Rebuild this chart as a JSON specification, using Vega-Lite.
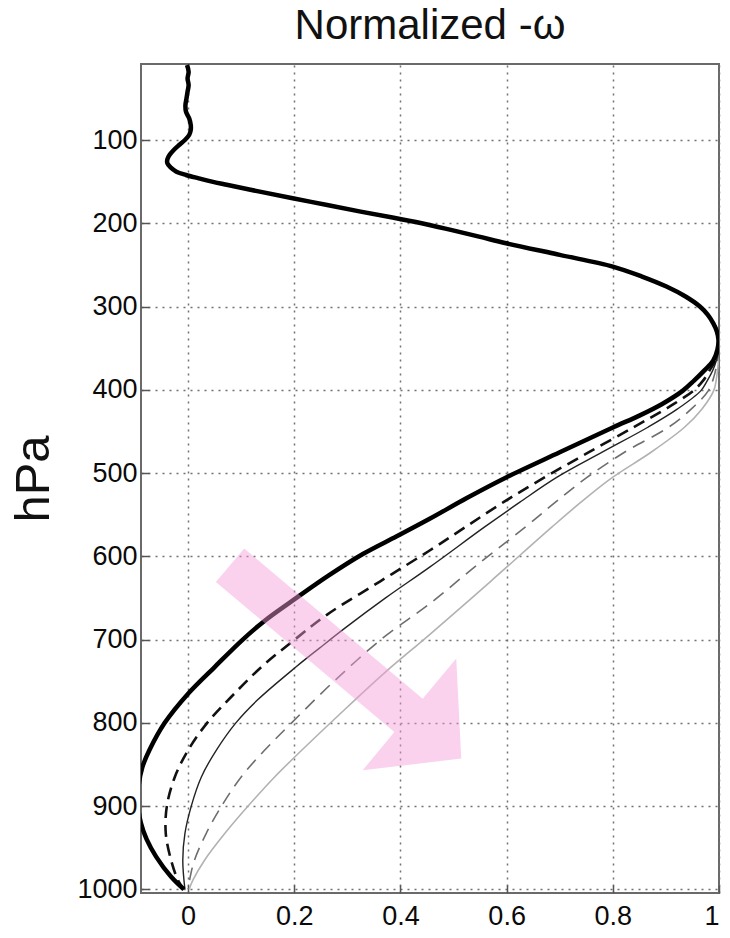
{
  "$schema": "https://vega.github.io/schema/vega-lite/v6.json",
  "width": 578,
  "height": 829,
  "autosize": {"type": "none"},
  "padding": {"left": 141, "top": 64, "right": 11, "bottom": 45},
  "background": "white",
  "title": {
    "text": "Normalized -ω",
    "font": "Liberation Sans",
    "fontSize": 42,
    "fontWeight": "normal",
    "color": "#111111",
    "anchor": "middle",
    "offset": 16
  },
  "config": {
    "view": {"stroke": "#6a6a6a", "strokeWidth": 2},
    "axis": {
      "grid": true,
      "gridDash": [2, 5],
      "gridColor": "#727272",
      "gridWidth": 1.5,
      "domain": false,
      "ticks": true,
      "tickSize": -8,
      "tickColor": "#555555",
      "tickWidth": 1.5,
      "labelFont": "Liberation Sans",
      "labelFontSize": 27,
      "labelColor": "#0a0a0a",
      "titleFont": "Liberation Sans",
      "titleFontWeight": "normal",
      "titleColor": "#111111"
    }
  },
  "datasets": {
    "profiles": [
      {"run": "A", "p": 10, "omega": -0.002},
      {"run": "A", "p": 18, "omega": 0.001},
      {"run": "A", "p": 26, "omega": -0.001},
      {"run": "A", "p": 34, "omega": 0.001},
      {"run": "A", "p": 42, "omega": -0.001},
      {"run": "A", "p": 50, "omega": -0.003},
      {"run": "A", "p": 58, "omega": -0.005},
      {"run": "A", "p": 66, "omega": -0.004},
      {"run": "A", "p": 74, "omega": 0.002},
      {"run": "A", "p": 82, "omega": 0.005},
      {"run": "A", "p": 88, "omega": 0.005},
      {"run": "A", "p": 94, "omega": 0.002},
      {"run": "A", "p": 100, "omega": -0.006},
      {"run": "A", "p": 106, "omega": -0.017},
      {"run": "A", "p": 112, "omega": -0.027},
      {"run": "A", "p": 118, "omega": -0.035},
      {"run": "A", "p": 123, "omega": -0.039},
      {"run": "A", "p": 128, "omega": -0.039},
      {"run": "A", "p": 133, "omega": -0.033},
      {"run": "A", "p": 138, "omega": -0.022},
      {"run": "A", "p": 142, "omega": -0.004},
      {"run": "A", "p": 146, "omega": 0.02},
      {"run": "A", "p": 150, "omega": 0.045},
      {"run": "A", "p": 154, "omega": 0.075},
      {"run": "A", "p": 162, "omega": 0.135},
      {"run": "A", "p": 170, "omega": 0.197},
      {"run": "A", "p": 178, "omega": 0.262},
      {"run": "A", "p": 186, "omega": 0.325},
      {"run": "A", "p": 193, "omega": 0.385},
      {"run": "A", "p": 200, "omega": 0.44},
      {"run": "A", "p": 208, "omega": 0.495},
      {"run": "A", "p": 216, "omega": 0.548},
      {"run": "A", "p": 224, "omega": 0.599},
      {"run": "A", "p": 238, "omega": 0.7},
      {"run": "A", "p": 252, "omega": 0.8},
      {"run": "A", "p": 264, "omega": 0.855},
      {"run": "A", "p": 276, "omega": 0.901},
      {"run": "A", "p": 288, "omega": 0.937},
      {"run": "A", "p": 300, "omega": 0.964},
      {"run": "A", "p": 310, "omega": 0.979},
      {"run": "A", "p": 320, "omega": 0.989},
      {"run": "A", "p": 330, "omega": 0.996},
      {"run": "A", "p": 340, "omega": 0.999},
      {"run": "A", "p": 352, "omega": 0.997},
      {"run": "A", "p": 365, "omega": 0.989},
      {"run": "A", "p": 377, "omega": 0.972},
      {"run": "A", "p": 389, "omega": 0.953},
      {"run": "A", "p": 401, "omega": 0.932},
      {"run": "A", "p": 417, "omega": 0.893},
      {"run": "A", "p": 431, "omega": 0.85},
      {"run": "A", "p": 445, "omega": 0.801},
      {"run": "A", "p": 475, "omega": 0.7},
      {"run": "A", "p": 505, "omega": 0.6},
      {"run": "A", "p": 530, "omega": 0.525},
      {"run": "A", "p": 555, "omega": 0.455},
      {"run": "A", "p": 576, "omega": 0.393},
      {"run": "A", "p": 597, "omega": 0.33},
      {"run": "A", "p": 623, "omega": 0.265},
      {"run": "A", "p": 650, "omega": 0.204},
      {"run": "A", "p": 677, "omega": 0.145},
      {"run": "A", "p": 700, "omega": 0.103},
      {"run": "A", "p": 733, "omega": 0.05},
      {"run": "A", "p": 765, "omega": 0.0},
      {"run": "A", "p": 800, "omega": -0.044},
      {"run": "A", "p": 833, "omega": -0.073},
      {"run": "A", "p": 853, "omega": -0.086},
      {"run": "A", "p": 875, "omega": -0.093},
      {"run": "A", "p": 900, "omega": -0.094},
      {"run": "A", "p": 920, "omega": -0.089},
      {"run": "A", "p": 940, "omega": -0.078},
      {"run": "A", "p": 961, "omega": -0.06},
      {"run": "A", "p": 985, "omega": -0.032},
      {"run": "A", "p": 1000, "omega": -0.008},

      {"run": "B", "p": 290, "omega": 0.94},
      {"run": "B", "p": 300, "omega": 0.964},
      {"run": "B", "p": 310, "omega": 0.979},
      {"run": "B", "p": 320, "omega": 0.99},
      {"run": "B", "p": 330, "omega": 0.997},
      {"run": "B", "p": 340, "omega": 1.0},
      {"run": "B", "p": 352, "omega": 0.998},
      {"run": "B", "p": 365, "omega": 0.993},
      {"run": "B", "p": 377, "omega": 0.982},
      {"run": "B", "p": 389, "omega": 0.97},
      {"run": "B", "p": 401, "omega": 0.952},
      {"run": "B", "p": 417, "omega": 0.915},
      {"run": "B", "p": 431, "omega": 0.878},
      {"run": "B", "p": 445, "omega": 0.839},
      {"run": "B", "p": 475, "omega": 0.755},
      {"run": "B", "p": 505, "omega": 0.672},
      {"run": "B", "p": 535, "omega": 0.594},
      {"run": "B", "p": 565, "omega": 0.522},
      {"run": "B", "p": 593, "omega": 0.455},
      {"run": "B", "p": 630, "omega": 0.362},
      {"run": "B", "p": 670, "omega": 0.262},
      {"run": "B", "p": 700, "omega": 0.201},
      {"run": "B", "p": 733, "omega": 0.138},
      {"run": "B", "p": 769, "omega": 0.081},
      {"run": "B", "p": 800, "omega": 0.036},
      {"run": "B", "p": 833, "omega": 0.0},
      {"run": "B", "p": 865, "omega": -0.025},
      {"run": "B", "p": 900, "omega": -0.04},
      {"run": "B", "p": 933, "omega": -0.042},
      {"run": "B", "p": 965, "omega": -0.032},
      {"run": "B", "p": 989, "omega": -0.019},
      {"run": "B", "p": 1000, "omega": -0.008},

      {"run": "C", "p": 290, "omega": 0.94},
      {"run": "C", "p": 300, "omega": 0.964},
      {"run": "C", "p": 310, "omega": 0.979},
      {"run": "C", "p": 320, "omega": 0.99},
      {"run": "C", "p": 330, "omega": 0.997},
      {"run": "C", "p": 340, "omega": 1.0},
      {"run": "C", "p": 352, "omega": 0.999},
      {"run": "C", "p": 365, "omega": 0.995},
      {"run": "C", "p": 377, "omega": 0.988},
      {"run": "C", "p": 389, "omega": 0.978},
      {"run": "C", "p": 401, "omega": 0.966},
      {"run": "C", "p": 423, "omega": 0.922},
      {"run": "C", "p": 445, "omega": 0.866},
      {"run": "C", "p": 475, "omega": 0.78},
      {"run": "C", "p": 505, "omega": 0.695},
      {"run": "C", "p": 535, "omega": 0.625},
      {"run": "C", "p": 565, "omega": 0.558},
      {"run": "C", "p": 613, "omega": 0.455},
      {"run": "C", "p": 650, "omega": 0.372},
      {"run": "C", "p": 686, "omega": 0.296},
      {"run": "C", "p": 710, "omega": 0.248},
      {"run": "C", "p": 733, "omega": 0.203},
      {"run": "C", "p": 773, "omega": 0.13},
      {"run": "C", "p": 800, "omega": 0.09},
      {"run": "C", "p": 833, "omega": 0.053},
      {"run": "C", "p": 865, "omega": 0.025},
      {"run": "C", "p": 900, "omega": 0.006},
      {"run": "C", "p": 933, "omega": -0.006},
      {"run": "C", "p": 965, "omega": -0.01},
      {"run": "C", "p": 1000, "omega": -0.006},

      {"run": "D", "p": 290, "omega": 0.94},
      {"run": "D", "p": 300, "omega": 0.964},
      {"run": "D", "p": 310, "omega": 0.979},
      {"run": "D", "p": 320, "omega": 0.99},
      {"run": "D", "p": 330, "omega": 0.997},
      {"run": "D", "p": 340, "omega": 1.0},
      {"run": "D", "p": 352, "omega": 1.0},
      {"run": "D", "p": 365, "omega": 0.997},
      {"run": "D", "p": 383, "omega": 0.991},
      {"run": "D", "p": 401, "omega": 0.98},
      {"run": "D", "p": 423, "omega": 0.948},
      {"run": "D", "p": 445, "omega": 0.905},
      {"run": "D", "p": 475, "omega": 0.822},
      {"run": "D", "p": 505, "omega": 0.752},
      {"run": "D", "p": 535, "omega": 0.692},
      {"run": "D", "p": 565, "omega": 0.635},
      {"run": "D", "p": 610, "omega": 0.545},
      {"run": "D", "p": 657, "omega": 0.455},
      {"run": "D", "p": 698, "omega": 0.367},
      {"run": "D", "p": 750, "omega": 0.275},
      {"run": "D", "p": 800, "omega": 0.195},
      {"run": "D", "p": 833, "omega": 0.144},
      {"run": "D", "p": 865, "omega": 0.1},
      {"run": "D", "p": 900, "omega": 0.063},
      {"run": "D", "p": 933, "omega": 0.034},
      {"run": "D", "p": 965, "omega": 0.012},
      {"run": "D", "p": 985, "omega": 0.004},
      {"run": "D", "p": 1000, "omega": 0.0},

      {"run": "E", "p": 290, "omega": 0.94},
      {"run": "E", "p": 300, "omega": 0.964},
      {"run": "E", "p": 310, "omega": 0.979},
      {"run": "E", "p": 320, "omega": 0.99},
      {"run": "E", "p": 330, "omega": 0.997},
      {"run": "E", "p": 340, "omega": 1.0},
      {"run": "E", "p": 352, "omega": 1.0},
      {"run": "E", "p": 365, "omega": 0.999},
      {"run": "E", "p": 383, "omega": 0.996},
      {"run": "E", "p": 401, "omega": 0.99},
      {"run": "E", "p": 423, "omega": 0.968},
      {"run": "E", "p": 445, "omega": 0.935},
      {"run": "E", "p": 475, "omega": 0.872},
      {"run": "E", "p": 505, "omega": 0.8},
      {"run": "E", "p": 535, "omega": 0.74},
      {"run": "E", "p": 565, "omega": 0.685},
      {"run": "E", "p": 630, "omega": 0.57},
      {"run": "E", "p": 694, "omega": 0.455},
      {"run": "E", "p": 740, "omega": 0.37},
      {"run": "E", "p": 790, "omega": 0.285},
      {"run": "E", "p": 833, "omega": 0.214},
      {"run": "E", "p": 865, "omega": 0.163},
      {"run": "E", "p": 900, "omega": 0.113},
      {"run": "E", "p": 933, "omega": 0.069},
      {"run": "E", "p": 965, "omega": 0.031},
      {"run": "E", "p": 989, "omega": 0.009},
      {"run": "E", "p": 1000, "omega": 0.002}
    ],
    "arrow": [
      {"k": 0, "omega": 0.0523, "p": 630.8},
      {"k": 1, "omega": 0.3885, "p": 811.1},
      {"k": 2, "omega": 0.3289, "p": 857.0},
      {"k": 3, "omega": 0.5145, "p": 843.0},
      {"k": 4, "omega": 0.5051, "p": 722.8},
      {"k": 5, "omega": 0.4419, "p": 771.0},
      {"k": 6, "omega": 0.1057, "p": 590.6},
      {"k": 7, "omega": 0.0523, "p": 630.8}
    ]
  },
  "encoding": {
    "x": {
      "field": "omega",
      "type": "quantitative",
      "scale": {"domain": [-0.0887, 1], "nice": false, "zero": false},
      "axis": {
        "values": [0, 0.2, 0.4, 0.6, 0.8, 1],
        "format": "~g",
        "title": null,
        "labelPadding": 18
      }
    },
    "y": {
      "field": "p",
      "type": "quantitative",
      "scale": {"domain": [8.7, 1004.4], "reverse": true, "nice": false, "zero": false},
      "axis": {
        "values": [100, 200, 300, 400, 500, 600, 700, 800, 900, 1000],
        "format": "d",
        "title": "hPa",
        "titleFontSize": 49,
        "titlePadding": 18,
        "labelPadding": 12
      }
    }
  },
  "layer": [
    {
      "data": {"name": "profiles"},
      "transform": [{"filter": "datum.run === 'E'"}],
      "mark": {"type": "line", "color": "#b2b2b2", "strokeWidth": 1.6, "interpolate": "catmull-rom", "clip": true},
      "encoding": {"order": {"field": "p", "type": "quantitative"}}
    },
    {
      "data": {"name": "profiles"},
      "transform": [{"filter": "datum.run === 'D'"}],
      "mark": {"type": "line", "color": "#6e6e6e", "strokeWidth": 1.6, "strokeDash": [13, 8], "interpolate": "catmull-rom", "clip": true},
      "encoding": {"order": {"field": "p", "type": "quantitative"}}
    },
    {
      "data": {"name": "profiles"},
      "transform": [{"filter": "datum.run === 'C'"}],
      "mark": {"type": "line", "color": "#222222", "strokeWidth": 1.4, "interpolate": "catmull-rom", "clip": true},
      "encoding": {"order": {"field": "p", "type": "quantitative"}}
    },
    {
      "data": {"name": "profiles"},
      "transform": [{"filter": "datum.run === 'B'"}],
      "mark": {"type": "line", "color": "#111111", "strokeWidth": 2.6, "strokeDash": [12, 7], "interpolate": "catmull-rom", "clip": true},
      "encoding": {"order": {"field": "p", "type": "quantitative"}}
    },
    {
      "data": {"name": "profiles"},
      "transform": [{"filter": "datum.run === 'A'"}],
      "mark": {"type": "line", "color": "#000000", "strokeWidth": 4.5, "interpolate": "catmull-rom", "clip": true},
      "encoding": {"order": {"field": "p", "type": "quantitative"}}
    },
    {
      "data": {"name": "arrow"},
      "mark": {"type": "line", "fill": "#f49bd6", "fillOpacity": 0.45, "strokeWidth": 0, "strokeOpacity": 0, "interpolate": "linear", "clip": true},
      "encoding": {"order": {"field": "k", "type": "quantitative"}}
    }
  ]
}
